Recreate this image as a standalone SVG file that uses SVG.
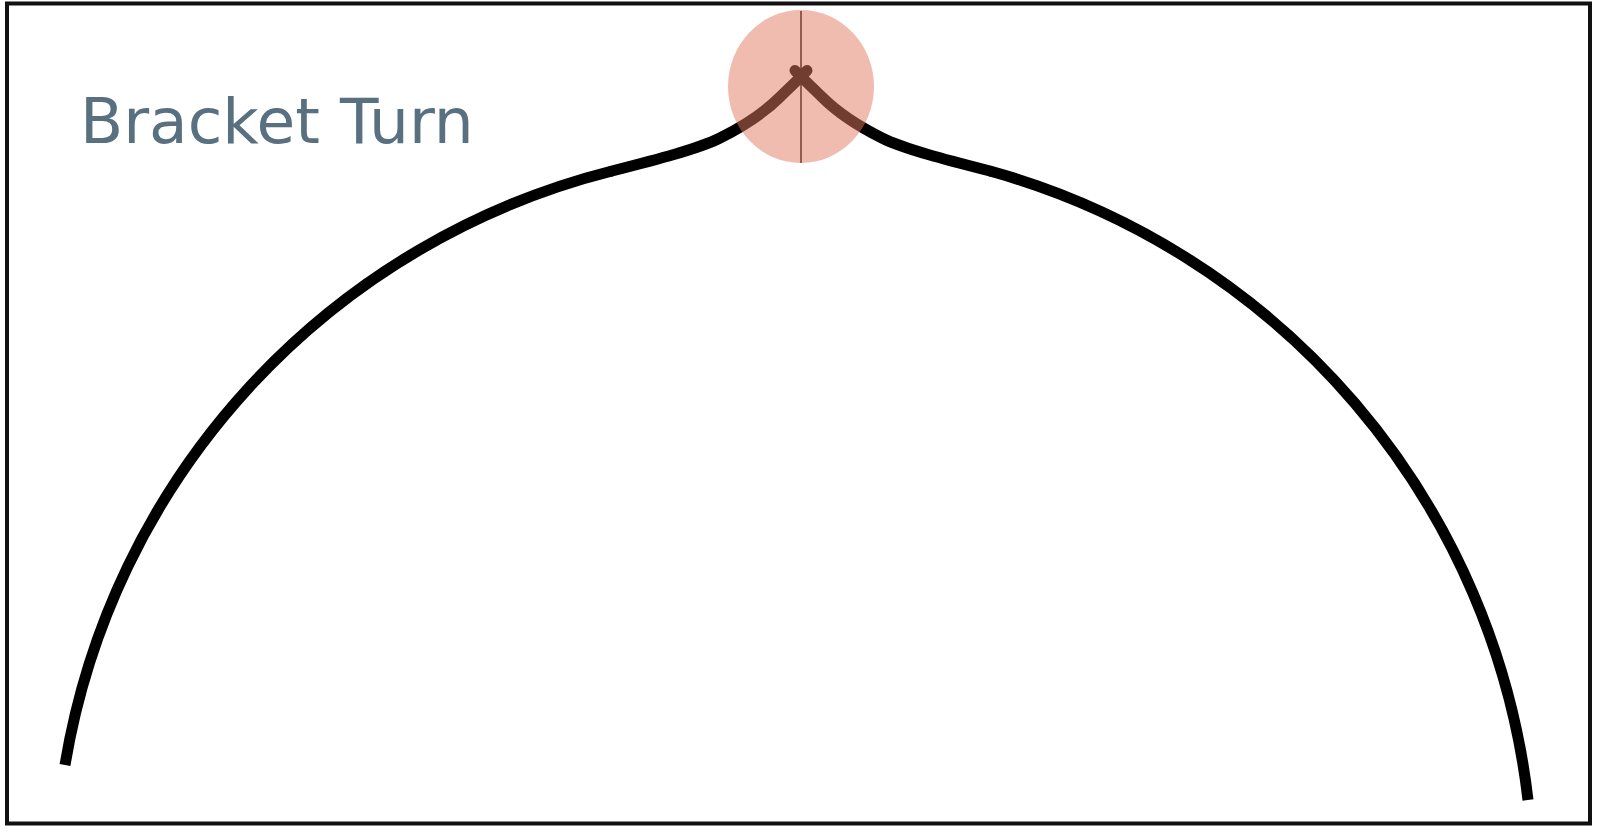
<svg xmlns="http://www.w3.org/2000/svg" width="1598" height="832" viewBox="0 0 1598 832">
  <style>
    .frame { fill: #ffffff; stroke: #111111; stroke-width: 4; }
    .title { font-family: "DejaVu Sans", Verdana, sans-serif; font-size: 63px; fill: #587080; }
    .arc { fill: none; stroke: #000000; stroke-width: 11; stroke-linecap: butt; }
    .bracket { fill: none; stroke: #000000; stroke-width: 11; stroke-linecap: round; stroke-linejoin: round; }
    .axis { stroke: #000000; stroke-width: 1.5; }
    .focus { fill: #e17961; fill-opacity: 0.5; }
  </style>
  <rect class="frame" x="7" y="3.5" width="1583" height="820"/>
  <g id="title">
    <text class="title" x="80" y="142.5">Bracket Turn</text>
  </g>
  <g id="connectors">
    <path class="arc" d="M 65,765 A 737 737 0 0 1 612,171"/>
    <path class="bracket" d="M 612,171 C 655,160 698,149 720,138 C 742,127 762,115 780,97 C 790,87 800,78 807,70.5"/>
    <path class="arc" d="M 1528,800 A 741 741 0 0 0 990,171"/>
    <path class="bracket" d="M 990,171 C 947,160 904,149 882,138 C 860,127 840,115 822,97 C 812,87 802,78 795,70.5"/>
  </g>
  <g id="turn-point">
    <line class="axis" x1="801" y1="11" x2="801" y2="163"/>
    <ellipse class="focus" cx="801" cy="86.5" rx="73" ry="76.5"/>
  </g>
</svg>
